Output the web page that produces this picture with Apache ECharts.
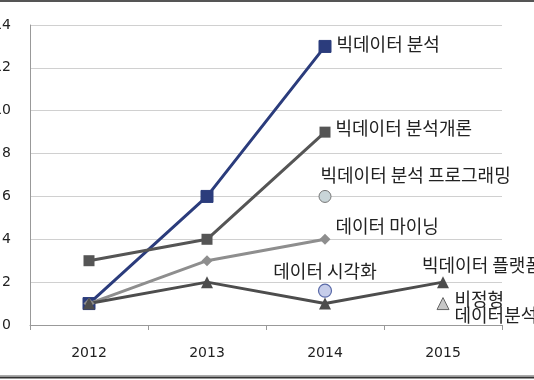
<!DOCTYPE html>
<html>
<head>
<meta charset="utf-8">
<script src="https://cdn.jsdelivr.net/npm/echarts@6/dist/echarts.min.js"></script>
<style>html,body{margin:0;padding:0;background:#fff}#c{width:534px;height:380px}</style>
</head>
<body>
<div id="c"></div>
<script>
var categories = ['2012', '2013', '2014', '2015'];
var yTicks = [0, 2, 4, 6, 8, 10, 12, 14];
var bigdataAnalysis = [1, 6, 13, null];
var bigdataIntro = [3, 4, 9, null];
var bigdataProgramming = [null, null, 6, null];
var dataMining = [1, 3, 4, null];
var dataVisualization = [null, null, 1.6, null];
var bigdataPlatform = [1, 2, 1, 2];
var unstructured = [null, null, null, 1];

var FONT = '"Noto Sans CJK KR", "Noto Sans", sans-serif';
var NUMFONT = '"DejaVu Sans", "Liberation Sans", sans-serif';

function withLabel(values, idx, text, labelOpt) {
  return values.map(function (v, i) {
    if (i !== idx) return v;
    return {
      value: v,
      label: Object.assign({
        show: true, formatter: text, color: '#222', fontSize: 18,
        fontFamily: FONT
      }, labelOpt)
    };
  });
}

var chart = echarts.init(document.getElementById('c'));
chart.setOption({
  animation: false,
  backgroundColor: '#fff',
  grid: { left: 30, right: 32, top: 25, bottom: 55, containLabel: false, outerBoundsMode: 'none' },
  xAxis: {
    type: 'category', data: categories, boundaryGap: true,
    axisLine: { lineStyle: { color: '#999', width: 1 } },
    axisTick: { show: true, length: 5, lineStyle: { color: '#999' } },
    axisLabel: { color: '#222', fontSize: 14, margin: 21, fontFamily: NUMFONT },
    splitLine: { show: false }
  },
  yAxis: {
    type: 'value', min: 0, max: 14, interval: 2,
    axisLine: { show: true, lineStyle: { color: '#999', width: 1 } },
    axisTick: { show: false },
    axisLabel: { color: '#222', fontSize: 14, margin: 19, fontFamily: NUMFONT,
      formatter: function (v) { return yTicks.indexOf(v) >= 0 ? String(v) : ''; } },
    splitLine: { lineStyle: { color: '#d0d0d0', width: 1 } }
  },
  graphic: [
    { type: 'line', shape: { x1: 0, y1: 1, x2: 534, y2: 1 }, style: { stroke: '#555', lineWidth: 2 } },
    { type: 'line', shape: { x1: 0, y1: 375.5, x2: 534, y2: 375.5 }, style: { stroke: '#aaa', lineWidth: 1 } },
    { type: 'line', shape: { x1: 0, y1: 377.5, x2: 534, y2: 377.5 }, style: { stroke: '#333', lineWidth: 2 } }
  ],
  series: [
    {
      name: '빅데이터 분석', type: 'line', z: 2,
      data: withLabel(bigdataAnalysis, 2, '빅데이터 분석', { position: 'right', offset: [0, -2] }),
      symbol: 'rect', symbolSize: 12, showAllSymbol: true,
      lineStyle: { color: '#2b3c7c', width: 3 },
      itemStyle: { color: '#2b3c7c', borderColor: '#2b3c7c', borderWidth: 1, opacity: 1 }
    },
    {
      name: '빅데이터 분석개론', type: 'line', z: 3,
      data: withLabel(bigdataIntro, 2, '빅데이터 분석개론', { position: 'right', offset: [0, -4] }),
      symbol: 'rect', symbolSize: 11,
      lineStyle: { color: '#555', width: 3 },
      itemStyle: { color: '#555', opacity: 1 }
    },
    {
      name: '빅데이터 분석 프로그래밍', type: 'line', z: 3,
      data: withLabel(bigdataProgramming, 2, '빅데이터 분석 프로그래밍', { position: 'right', offset: [-16, -21] }),
      symbol: 'circle', symbolSize: 12, showSymbol: true,
      lineStyle: { width: 0 },
      itemStyle: { color: '#c9d5d8', borderColor: '#777', borderWidth: 1, opacity: 1 }
    },
    {
      name: '데이터 마이닝', type: 'line', z: 3,
      data: withLabel(dataMining, 2, '데이터 마이닝', { position: 'right', offset: [0, -13] }),
      symbol: 'diamond', symbolSize: 11,
      lineStyle: { color: '#8e8e8e', width: 3 },
      itemStyle: { color: '#8e8e8e', opacity: 1 }
    },
    {
      name: '데이터 시각화', type: 'line', z: 4,
      data: withLabel(dataVisualization, 2, '데이터 시각화', { position: 'top', distance: 3 }),
      symbol: 'circle', symbolSize: 13, showSymbol: true,
      lineStyle: { width: 0 },
      itemStyle: { color: '#c6cdea', borderColor: '#5a6aa8', borderWidth: 1.2, opacity: 1 }
    },
    {
      name: '빅데이터 플랫폼', type: 'line', z: 3,
      data: withLabel(bigdataPlatform, 3, '빅데이터 플랫폼', { position: 'right', offset: [-32, -17] }),
      symbol: 'triangle', symbolSize: 12,
      lineStyle: { color: '#4d4d4d', width: 3 },
      itemStyle: { color: '#4d4d4d', opacity: 1 }
    },
    {
      name: '비정형 데이터분석', type: 'line', z: 3,
      data: withLabel(unstructured, 3, '비정형\n데이터분석', { position: 'right', offset: [0, 4], lineHeight: 16 }),
      symbol: 'triangle', symbolSize: 12, showSymbol: true,
      lineStyle: { width: 0 },
      itemStyle: { color: '#c8c8c8', borderColor: '#666', borderWidth: 1, opacity: 1 }
    }
  ]
});
</script>
</body>
</html>
